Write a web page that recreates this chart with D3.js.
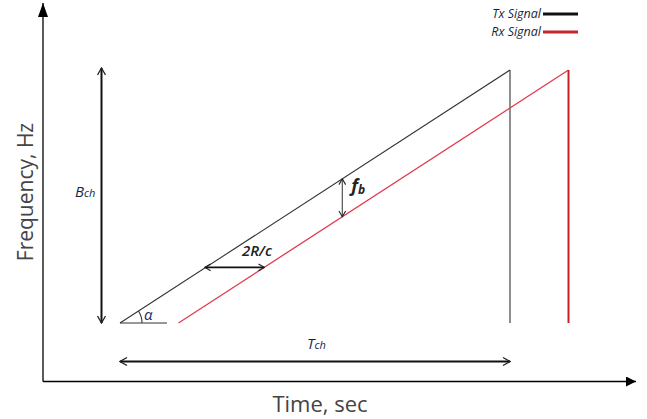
<!DOCTYPE html>
<html>
<head>
<meta charset="utf-8">
<script src="https://cdn.jsdelivr.net/npm/d3@7"></script>
<style>
  html, body { margin: 0; padding: 0; background: #fff; }
  svg { display: block; }
  text { font-family: "Open Sans", "DejaVu Sans", sans-serif; }
</style>
</head>
<body>
<svg id="chart" width="647" height="419"></svg>
<script>
// FMCW chirp: transmitted and received sawtooth frequency ramps
const seriesNames = ["Tx Signal", "Rx Signal"];
const seriesColors = ["#111111", "#c0282d"];
const chirpPeriod = 1;        // T_ch (normalised time)
const chirpBandwidth = 1;     // B_ch (normalised frequency)
const roundTripDelay = 0.15;  // 2R/c
const txTime = [0, 1, 1];
const txFreq = [0, 1, 0];
const rxTime = [0.15, 1.15, 1.15];
const rxFreq = [0, 1, 0];
const beatTime = 0.57;        // where f_b is marked
const delayFreq = 0.22;       // where 2R/c is marked

const svg = d3.select("#chart");

const x = d3.scaleLinear().domain([0, chirpPeriod]).range([120, 510]);
const y = d3.scaleLinear().domain([0, chirpBandwidth]).range([323, 70]);

const axisX0 = 43, axisY0 = 381.5;

// arrow markers
const defs = svg.append("defs");
defs.append("marker").attr("id", "solidHead")
  .attr("viewBox", "0 0 10 10").attr("refX", 10).attr("refY", 5)
  .attr("markerWidth", 10).attr("markerHeight", 10).attr("markerUnits", "userSpaceOnUse")
  .attr("orient", "auto")
  .append("path").attr("d", "M0,0 L10,5 L0,10 Z").attr("fill", "#000");
defs.append("marker").attr("id", "solidHeadV")
  .attr("viewBox", "0 0 14 10").attr("refX", 14).attr("refY", 5)
  .attr("markerWidth", 14).attr("markerHeight", 10).attr("markerUnits", "userSpaceOnUse")
  .attr("orient", "auto")
  .append("path").attr("d", "M0,0 L14,5 L0,10 Z").attr("fill", "#000");
function openHead(id, size, sw) {
  defs.append("marker").attr("id", id)
    .attr("viewBox", "-1 -1 12 12").attr("refX", 10).attr("refY", 5)
    .attr("markerWidth", size).attr("markerHeight", size).attr("markerUnits", "userSpaceOnUse")
    .attr("orient", "auto-start-reverse")
    .append("path").attr("d", "M3,1 L10,5 L3,9").attr("fill", "none")
    .attr("stroke", "#222").attr("stroke-width", sw);
}
openHead("openHead", 12, 1.3);
openHead("openHeadSmall", 10, 1.3);

// axes
svg.append("line").attr("x1", axisX0).attr("y1", axisY0).attr("x2", axisX0).attr("y2", 3)
  .attr("stroke", "#000").attr("stroke-width", 1.3).attr("marker-end", "url(#solidHeadV)");
svg.append("line").attr("x1", axisX0).attr("y1", axisY0).attr("x2", 636).attr("y2", axisY0)
  .attr("stroke", "#000").attr("stroke-width", 1.3).attr("marker-end", "url(#solidHead)");

svg.append("text").attr("transform", `translate(33,192) rotate(-90)`)
  .attr("text-anchor", "middle").attr("font-size", 21).attr("fill", "#444")
  .text("Frequency, Hz");
svg.append("text").attr("x", 320).attr("y", 412)
  .attr("text-anchor", "middle").attr("font-size", 22).attr("fill", "#444")
  .text("Time, sec");

// signal ramps
const line = d3.line().x(d => x(d[0])).y(d => y(d[1]));
const tx = txTime.map((t, i) => [t, txFreq[i]]);
const rx = rxTime.map((t, i) => [t, rxFreq[i]]);
svg.append("path").attr("d", line(tx.slice(0, 2))).attr("fill", "none")
  .attr("stroke", "#333").attr("stroke-width", 1.1);
svg.append("path").attr("d", line(tx.slice(1))).attr("fill", "none")
  .attr("stroke", "#333").attr("stroke-width", 1.1);
svg.append("path").attr("d", line(rx.slice(0, 2))).attr("fill", "none")
  .attr("stroke", "#e23a50").attr("stroke-width", 1.3);
svg.append("path").attr("d", line(rx.slice(1))).attr("fill", "none")
  .attr("stroke", "#c8202a").attr("stroke-width", 2);

// angle alpha
svg.append("line").attr("x1", x(0)).attr("y1", y(0)).attr("x2", x(0) + 47).attr("y2", y(0))
  .attr("stroke", "#333").attr("stroke-width", 1.1);
const slopeAng = Math.atan2(y(0) - y(1), x(1) - x(0));
const r = 22;
svg.append("path")
  .attr("d", `M${x(0) + r},${y(0)} A${r},${r} 0 0 0 ${x(0) + r * Math.cos(slopeAng)},${y(0) - r * Math.sin(slopeAng)}`)
  .attr("fill", "none").attr("stroke", "#333").attr("stroke-width", 1.1);
svg.append("text").attr("x", x(0) + 24).attr("y", y(0) - 3)
  .attr("font-size", 15).attr("font-style", "italic").attr("fill", "#1a2a6a").text("α");

// B_ch double arrow
svg.append("line").attr("x1", 101.5).attr("y1", y(0)).attr("x2", 101.5).attr("y2", y(chirpBandwidth) - 2)
  .attr("stroke", "#111").attr("stroke-width", 2)
  .attr("marker-start", "url(#openHead)").attr("marker-end", "url(#openHead)");
const bLab = svg.append("text").attr("x", 75).attr("y", 197)
  .attr("font-size", 15).attr("font-style", "italic").attr("fill", "#1a1f4a");
bLab.append("tspan").text("B");
bLab.append("tspan").attr("font-size", 11).text("ch");

// T_ch double arrow
svg.append("line").attr("x1", x(0)).attr("y1", 361.5).attr("x2", x(chirpPeriod)).attr("y2", 361.5)
  .attr("stroke", "#111").attr("stroke-width", 2)
  .attr("marker-start", "url(#openHead)").attr("marker-end", "url(#openHead)");
const tLab = svg.append("text").attr("x", 307).attr("y", 349)
  .attr("font-size", 15).attr("font-style", "italic").attr("fill", "#1a1f4a");
tLab.append("tspan").text("T");
tLab.append("tspan").attr("font-size", 11).text("ch");

// beat frequency f_b
const fbTop = y(beatTime * chirpBandwidth / chirpPeriod);
const fbBot = y((beatTime - roundTripDelay) * chirpBandwidth / chirpPeriod);
svg.append("line").attr("x1", x(beatTime)).attr("y1", fbTop).attr("x2", x(beatTime)).attr("y2", fbBot)
  .attr("stroke", "#444").attr("stroke-width", 1.1)
  .attr("marker-start", "url(#openHeadSmall)").attr("marker-end", "url(#openHeadSmall)");
const fLab = svg.append("text").attr("x", x(beatTime) + 9).attr("y", 192)
  .attr("font-size", 18).attr("font-style", "italic").attr("font-weight", "bold").attr("fill", "#222")
  .attr("font-family", "'Liberation Serif', serif");
fLab.append("tspan").text("f");
fLab.append("tspan").attr("font-size", 12).attr("dy", 2).text("b");

// round-trip delay 2R/c
const dy = y(delayFreq);
svg.append("line").attr("x1", x(delayFreq * chirpPeriod / chirpBandwidth) - 1).attr("y1", dy)
  .attr("x2", x(delayFreq * chirpPeriod / chirpBandwidth + roundTripDelay)).attr("y2", dy)
  .attr("stroke", "#111").attr("stroke-width", 1.6)
  .attr("marker-start", "url(#openHeadSmall)").attr("marker-end", "url(#openHeadSmall)");
svg.append("text").attr("x", 242).attr("y", 256)
  .attr("font-size", 15).attr("font-style", "italic").attr("font-weight", "600").attr("fill", "#222")
  .text("2R/c");

// legend
seriesNames.forEach((name, i) => {
  const ly = 14 + i * 18;
  svg.append("text").attr("x", 541).attr("y", ly + 4).attr("text-anchor", "end")
    .attr("font-size", 12.5).attr("font-style", "italic").attr("fill", "#1a1f3a").text(name);
  svg.append("line").attr("x1", 543).attr("y1", ly).attr("x2", 578).attr("y2", ly)
    .attr("stroke", seriesColors[i]).attr("stroke-width", 3);
});
</script>
</body>
</html>
